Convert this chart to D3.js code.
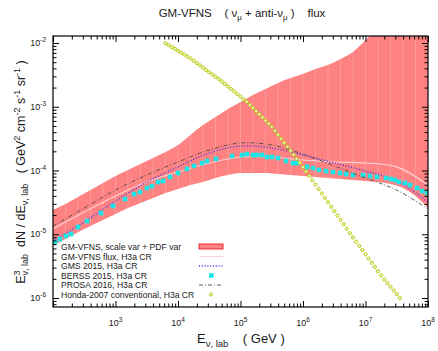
<!DOCTYPE html>
<html>
<head>
<meta charset="utf-8">
<script src="https://cdn.jsdelivr.net/npm/d3@7"></script>
<style>
  body { margin: 0; background: #fff; }
  text { font-family: "Liberation Sans", Arial, Helvetica, sans-serif; fill: #1a1a1a; }
</style>
</head>
<body>
<svg id="chart" width="438" height="351"></svg>
<script>
// energies in GeV, fluxes E^3 dN/dE in GeV^2 cm^-2 s^-1 sr^-1

// GM-VFNS band (scale var + PDF var), 0.2 decade grid
const bandEnergy = [1e2, 1.58e2, 2.51e2, 3.98e2, 6.31e2, 1e3, 1.58e3, 2.51e3, 3.98e3, 6.31e3,
  1e4, 1.58e4, 2.51e4, 3.98e4, 6.31e4, 1e5, 1.58e5, 2.51e5, 3.98e5, 6.31e5,
  1e6, 1.58e6, 2.51e6, 3.98e6, 6.31e6, 1e7, 1.58e7, 2.51e7, 3.98e7, 6.31e7, 1e8];
const bandUpper = [2.40e-5, 2.98e-5, 3.84e-5, 4.94e-5, 6.37e-5, 8.20e-5, 1.02e-4, 1.26e-4, 1.57e-4, 1.95e-4,
  2.51e-4, 3.61e-4, 5.17e-4, 6.91e-4, 9.22e-4, 1.19e-3, 1.53e-3, 1.90e-3, 2.36e-3, 2.82e-3,
  3.26e-3, 3.91e-3, 4.52e-3, 5.61e-3, 7.22e-3, 1.11e-2, 1.78e-2, 2.85e-2, 4.39e-2, 6.78e-2, 9.73e-2];
const bandLower = [6.54e-6, 8.42e-6, 1.08e-5, 1.35e-5, 1.67e-5, 2.08e-5, 2.58e-5, 3.09e-5, 3.70e-5, 4.44e-5,
  5.13e-5, 5.92e-5, 6.60e-5, 7.63e-5, 8.50e-5, 9.14e-5, 9.14e-5, 9.14e-5, 8.81e-5, 8.50e-5,
  8.20e-5, 7.91e-5, 7.63e-5, 7.36e-5, 7.10e-5, 6.84e-5, 6.60e-5, 6.14e-5, 5.32e-5, 3.98e-5, 2.58e-5];

// half-decade grid for the smooth curves
const curveEnergy = [1e2, 3.16e2, 1e3, 3.16e3, 1e4, 3.16e4, 1e5, 3.16e5, 1e6, 3.16e6, 1e7, 3.16e7, 1e8];
const gmvfnsFlux = [1.21e-5, 2.23e-5, 3.98e-5, 6.60e-5, 9.47e-5, 1.31e-4, 1.63e-4, 1.63e-4, 1.46e-4, 1.36e-4, 1.31e-4, 1.14e-4, 5.92e-5];
const gmsFlux    = [7.84e-6, 1.56e-5, 3.32e-5, 6.60e-5, 1.14e-4, 1.88e-4, 2.42e-4, 2.25e-4, 1.75e-4, 1.31e-4, 9.82e-5, 6.84e-5, 3.21e-5];
const prosaFlux  = [1.35e-5, 2.58e-5, 4.94e-5, 8.50e-5, 1.36e-4, 2.10e-4, 2.70e-4, 2.51e-4, 1.81e-4, 1.18e-4, 7.63e-5, 4.94e-5, 2.49e-5];

// BERSS 2015 points
const berssEnergy = [108, 129, 161, 194, 251, 350, 586, 912, 1420, 1980, 2470, 3190, 3840, 4790, 5750, 7450,
  1.00e4, 1.39e4, 1.80e4, 2.42e4, 2.91e4, 4.06e4, 7.31e4, 1.06e5, 1.27e5, 1.59e5, 1.84e5, 2.21e5, 2.66e5,
  3.19e5, 3.98e5, 5.35e5, 6.92e5, 8.02e5, 1.16e6, 1.45e6, 1.80e6, 2.33e6, 3.02e6, 3.91e6, 4.88e6, 6.31e6,
  9.12e6, 1.18e7, 1.53e7, 2.13e7, 2.56e7, 2.97e7, 3.44e7, 4.29e7, 5.15e7, 6.67e7, 8.02e7, 9.64e7];
const berssFlux = [7.56e-6, 8.42e-6, 9.39e-6, 1.01e-5, 1.30e-5, 1.61e-5, 2.15e-5, 2.77e-5, 3.57e-5, 4.28e-5, 4.60e-5,
  5.32e-5, 5.71e-5, 6.60e-5, 6.84e-5, 7.91e-5, 9.14e-5, 1.06e-4, 1.18e-4, 1.31e-4, 1.41e-4, 1.52e-4, 1.69e-4,
  1.75e-4, 1.81e-4, 1.75e-4, 1.75e-4, 1.75e-4, 1.63e-4, 1.63e-4, 1.57e-4, 1.41e-4, 1.31e-4, 1.31e-4, 1.14e-4,
  1.09e-4, 1.02e-4, 9.82e-5, 9.47e-5, 9.14e-5, 8.81e-5, 8.50e-5, 8.50e-5, 8.20e-5, 7.91e-5, 7.63e-5, 7.36e-5,
  7.10e-5, 6.60e-5, 6.37e-5, 5.92e-5, 5.32e-5, 4.77e-5, 4.44e-5];

// Honda-2007 conventional, 20 bins per decade
const hondaEnergy = [6.31e3, 7.08e3, 7.94e3, 8.91e3,
  1.00e4, 1.12e4, 1.26e4, 1.41e4, 1.58e4, 1.78e4, 2.00e4, 2.24e4, 2.51e4, 2.82e4, 3.16e4, 3.55e4, 3.98e4, 4.47e4, 5.01e4, 5.62e4, 6.31e4, 7.08e4, 7.94e4, 8.91e4,
  1.00e5, 1.12e5, 1.26e5, 1.41e5, 1.58e5, 1.78e5, 2.00e5, 2.24e5, 2.51e5, 2.82e5, 3.16e5, 3.55e5, 3.98e5, 4.47e5, 5.01e5, 5.62e5, 6.31e5, 7.08e5, 7.94e5, 8.91e5,
  1.00e6, 1.12e6, 1.26e6, 1.41e6, 1.58e6, 1.78e6, 2.00e6, 2.24e6, 2.51e6, 2.82e6, 3.16e6, 3.55e6, 3.98e6, 4.47e6, 5.01e6, 5.62e6, 6.31e6, 7.08e6, 7.94e6, 8.91e6,
  1.00e7, 1.12e7, 1.26e7, 1.41e7, 1.58e7, 1.78e7, 2.00e7, 2.24e7, 2.51e7, 2.82e7, 3.16e7, 3.55e7];
const hondaFlux = [9.95e-3, 9.29e-3, 8.67e-3, 8.09e-3,
  7.55e-3, 7.05e-3, 6.58e-3, 6.14e-3, 5.73e-3, 5.27e-3, 4.85e-3, 4.47e-3, 4.11e-3, 3.78e-3, 3.48e-3, 3.21e-3, 2.95e-3, 2.72e-3, 2.50e-3, 2.28e-3, 2.08e-3, 1.90e-3, 1.73e-3, 1.58e-3,
  1.44e-3, 1.31e-3, 1.20e-3, 1.07e-3, 9.55e-4, 8.53e-4, 7.62e-4, 6.81e-4, 6.08e-4, 5.43e-4, 4.85e-4, 4.20e-4, 3.64e-4, 3.15e-4, 2.73e-4, 2.36e-4, 2.05e-4, 1.77e-4, 1.53e-4, 1.33e-4,
  1.13e-4, 9.66e-5, 8.24e-5, 7.03e-5, 6.00e-5, 5.12e-5, 4.37e-5, 3.72e-5, 3.18e-5, 2.71e-5, 2.31e-5, 1.97e-5, 1.68e-5, 1.44e-5, 1.22e-5, 1.04e-5, 8.91e-6, 7.66e-6, 6.58e-6, 5.65e-6,
  4.85e-6, 4.17e-6, 3.58e-6, 3.08e-6, 2.64e-6, 2.27e-6, 1.95e-6, 1.71e-6, 1.50e-6, 1.31e-6, 1.15e-6, 1.00e-6];

const xLabelTicks = [1e3, 1e4, 1e5, 1e6, 1e7, 1e8];
const yLabelTicks = [1e-6, 1e-5, 1e-4, 1e-3, 1e-2];
const legendLabels = [
  "GM-VFNS, scale var + PDF var",
  "GM-VFNS flux, H3a CR",
  "GMS 2015, H3a CR",
  "BERSS 2015, H3a CR",
  "PROSA 2016, H3a CR",
  "Honda-2007 conventional, H3a CR"
];

const frame = {left: 53, right: 428, top: 36, bottom: 307};

const svg = d3.select('#chart');

const x = d3.scaleLog().domain([1e2, 1e8]).range([frame.left, frame.right]);
const y = d3.scaleLog().domain([7.23e-7, 1.288e-2]).range([frame.bottom, frame.top]);

svg.append('defs').append('clipPath').attr('id', 'plotclip')
  .append('rect').attr('x', frame.left).attr('y', frame.top)
  .attr('width', frame.right - frame.left).attr('height', frame.bottom - frame.top);

const plot = svg.append('g').attr('clip-path', 'url(#plotclip)');

// band
const band = bandEnergy.map((e, i) => ({e, lo: bandLower[i], hi: bandUpper[i]}));
plot.append('path').datum(band)
  .attr('fill', '#ff8282')
  .attr('d', d3.area().x(d => x(d.e)).y0(d => y(d.lo)).y1(d => y(d.hi)).curve(d3.curveMonotoneX));

plot.selectAll('line.stripe').data(band.slice(1, -1)).join('line')
  .attr('class', 'stripe')
  .attr('x1', d => x(d.e)).attr('x2', d => x(d.e))
  .attr('y1', d => y(d.lo)).attr('y2', d => y(d.hi))
  .attr('stroke', '#ffa3a3').attr('stroke-width', 0.7);

const line = d3.line().x(d => x(d[0])).y(d => y(d[1])).curve(d3.curveCatmullRom);
const pairs = vals => curveEnergy.map((e, i) => [e, vals[i]]);

plot.append('path').datum(pairs(gmvfnsFlux)).attr('d', line)
  .attr('fill', 'none').attr('stroke', '#ffd6d6').attr('stroke-width', 1.1);

plot.append('path').datum(pairs(gmsFlux)).attr('d', line)
  .attr('fill', 'none').attr('stroke', '#3a2cf0').attr('stroke-width', 1.3)
  .attr('stroke-dasharray', '1,1.8');

plot.selectAll('rect.berss').data(berssEnergy).join('rect')
  .attr('class', 'berss')
  .attr('x', d => x(d) - 2.3).attr('y', (d, i) => y(berssFlux[i]) - 2.3)
  .attr('width', 4.6).attr('height', 4.6).attr('fill', '#19e6e6');

plot.append('path').datum(pairs(prosaFlux)).attr('d', line)
  .attr('fill', 'none').attr('stroke', '#4a4a4a').attr('stroke-width', 0.9)
  .attr('stroke-dasharray', '4,2,1,2');

plot.selectAll('circle.honda').data(hondaEnergy).join('circle')
  .attr('class', 'honda')
  .attr('cx', d => x(d)).attr('cy', (d, i) => y(hondaFlux[i]))
  .attr('r', 1.6).attr('fill', '#f3f6cf').attr('stroke', '#b2c600').attr('stroke-width', 0.9);

// axes, ticks inside on all four sides
const isDecade = t => Math.abs(Math.log10(t) - Math.round(Math.log10(t))) < 1e-6;
const xMinor = x.ticks().filter(t => !isDecade(t));
const yMinor = y.ticks().filter(t => !isDecade(t));
const xMajor = [1e2].concat(xLabelTicks);

function tickAxis(axis, values, size, transform) {
  svg.append('g').attr('transform', transform)
    .call(axis.tickValues(values).tickSize(-size).tickFormat(''))
    .call(g => g.select('.domain').remove())
    .call(g => g.selectAll('line').attr('stroke', '#000').attr('stroke-width', 1));
}
tickAxis(d3.axisBottom(x), xMajor, 6, `translate(0,${frame.bottom})`);
tickAxis(d3.axisBottom(x), xMinor, 3.5, `translate(0,${frame.bottom})`);
tickAxis(d3.axisTop(x), xMajor, 6, `translate(0,${frame.top})`);
tickAxis(d3.axisTop(x), xMinor, 3.5, `translate(0,${frame.top})`);
tickAxis(d3.axisLeft(y), yLabelTicks, 6, `translate(${frame.left},0)`);
tickAxis(d3.axisLeft(y), yMinor, 3.5, `translate(${frame.left},0)`);
tickAxis(d3.axisRight(y), yLabelTicks, 6, `translate(${frame.right},0)`);
tickAxis(d3.axisRight(y), yMinor, 3.5, `translate(${frame.right},0)`);

svg.append('rect').attr('x', frame.left).attr('y', frame.top)
  .attr('width', frame.right - frame.left).attr('height', frame.bottom - frame.top)
  .attr('fill', 'none').attr('stroke', '#000').attr('stroke-width', 1.2);

function powerLabel(sel, v) {
  sel.append('tspan').text('10');
  sel.append('tspan').attr('dy', -4).attr('font-size', 6.5).text(Math.round(Math.log10(v)));
}
xLabelTicks.forEach(v => {
  svg.append('text').attr('x', x(v)).attr('y', 326).attr('text-anchor', 'middle')
    .attr('font-size', 9).call(powerLabel, v);
});
yLabelTicks.forEach(v => {
  svg.append('text').attr('x', 46).attr('y', y(v) + 3).attr('text-anchor', 'end')
    .attr('font-size', 9).call(powerLabel, v);
});

// legend
const legY = i => 250 + i * 9.5;
legendLabels.forEach((t, i) => {
  svg.append('text').attr('x', 61).attr('y', legY(i)).attr('font-size', 8.6).text(t);
});
svg.append('rect').attr('x', 199).attr('y', legY(0) - 6).attr('width', 24).attr('height', 5)
  .attr('fill', '#ff8282').attr('stroke', '#e8202a').attr('stroke-width', 0.9);
svg.append('line').attr('x1', 199).attr('x2', 223).attr('y1', legY(1) - 3).attr('y2', legY(1) - 3)
  .attr('stroke', '#ffd0d0').attr('stroke-width', 1.1);
svg.append('line').attr('x1', 199).attr('x2', 223).attr('y1', legY(2) - 3).attr('y2', legY(2) - 3)
  .attr('stroke', '#3a2cf0').attr('stroke-width', 1.3).attr('stroke-dasharray', '1,1.8');
svg.append('rect').attr('x', 209).attr('y', legY(3) - 5.3).attr('width', 4.6).attr('height', 4.6).attr('fill', '#19e6e6');
svg.append('line').attr('x1', 199).attr('x2', 223).attr('y1', legY(4) - 3).attr('y2', legY(4) - 3)
  .attr('stroke', '#4a4a4a').attr('stroke-width', 0.9).attr('stroke-dasharray', '4,2,1,2');
svg.append('circle').attr('cx', 211).attr('cy', legY(5) - 3).attr('r', 1.6)
  .attr('fill', '#f3f6cf').attr('stroke', '#b2c600').attr('stroke-width', 0.9);

// titles
const title = svg.append('text').attr('x', 242).attr('y', 17).attr('text-anchor', 'middle')
  .attr('font-size', 11.5).attr('xml:space', 'preserve');
title.append('tspan').text('GM-VFNS    ( ν');
title.append('tspan').attr('dy', 3).attr('font-size', 8).text('μ');
title.append('tspan').attr('dy', -3).text(' + anti-ν');
title.append('tspan').attr('dy', 3).attr('font-size', 8).text('μ');
title.append('tspan').attr('dy', -3).text(' )    flux');

const xt = svg.append('text').attr('x', 197).attr('y', 343).attr('font-size', 13).attr('xml:space', 'preserve');
xt.append('tspan').text('E');
xt.append('tspan').attr('dy', 4).attr('font-size', 9.5).text('ν, lab');
xt.append('tspan').attr('dy', -4).text('    ( GeV )');

const yt = svg.append('text').attr('transform', 'translate(25,172) rotate(-90)')
  .attr('text-anchor', 'middle').attr('font-size', 12.5).attr('xml:space', 'preserve');
yt.append('tspan').text('E');
yt.append('tspan').attr('dy', -5).attr('font-size', 9).text('3');
yt.append('tspan').attr('dy', 8).attr('dx', -5).attr('font-size', 9).text('ν, lab');
yt.append('tspan').attr('dy', -3).text('  dN / dE');
yt.append('tspan').attr('dy', 3).attr('font-size', 9).text('ν, lab');
yt.append('tspan').attr('dy', -3).text('   ( GeV');
yt.append('tspan').attr('dy', -5).attr('font-size', 9).text('2');
yt.append('tspan').attr('dy', 5).text(' cm');
yt.append('tspan').attr('dy', -5).attr('font-size', 9).text('-2');
yt.append('tspan').attr('dy', 5).text(' s');
yt.append('tspan').attr('dy', -5).attr('font-size', 9).text('-1');
yt.append('tspan').attr('dy', 5).text(' sr');
yt.append('tspan').attr('dy', -5).attr('font-size', 9).text('-1');
yt.append('tspan').attr('dy', 5).text(' )');
</script>
</body>
</html>
